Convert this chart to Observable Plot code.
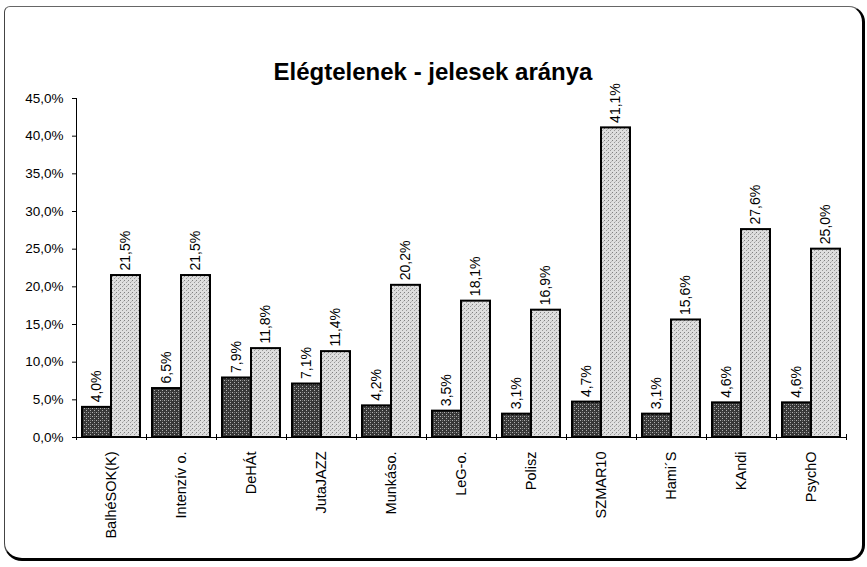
<!DOCTYPE html>
<html>
<head>
<meta charset="utf-8">
<script src="https://cdn.jsdelivr.net/npm/d3@7"></script>
<script src="https://cdn.jsdelivr.net/npm/@observablehq/plot@0.6"></script>
<style>
  html, body { margin: 0; padding: 0; background: #fff; }
  body { width: 867px; height: 567px; position: relative; overflow: hidden; font-family: "Liberation Sans", Arial, sans-serif; }
  #frame {
    position: absolute; left: 4px; top: 6px; width: 861px; height: 555px; box-sizing: border-box;
    border-top: 1px solid #666; border-left: 1px solid #444;
    border-right: 3px solid #000; border-bottom: 3px solid #000;
    border-radius: 6px 16px 16px 18px;
  }
  #title {
    position: absolute; left: 0; top: 58px; width: 866px; text-align: center;
    font: bold 24px "Liberation Sans", Arial, sans-serif; color: #000; line-height: 28px;
  }
  #chart { position: absolute; left: 0; top: 92px; }
</style>
</head>
<body>
<div id="frame"></div>
<div id="title">Elégtelenek - jelesek aránya</div>
<div id="chart"></div>
<script>
const categories = ["BalhéSOK(K)", "Intenzív o.", "DeHÁt", "JutaJAZZ", "Munkáso.", "LeG-o.", "Polisz", "SZMAR10", "Hami´S", "KAndi", "PsychO"];
const elegtelen = [4.0, 6.5, 7.9, 7.1, 4.2, 3.5, 3.1, 4.7, 3.1, 4.6, 4.6];
const jeles = [21.5, 21.5, 11.8, 11.4, 20.2, 18.1, 16.9, 41.1, 15.6, 27.6, 25.0];
const yTicks = [0, 5, 10, 15, 20, 25, 30, 35, 40, 45];

const fmt = d => d.toFixed(1).replace(".", ",") + "%";

const rowsE = categories.map((c, i) => ({cat: c, value: elegtelen[i]}));
const rowsJ = categories.map((c, i) => ({cat: c, value: jeles[i]}));

const W = 867, H = 475, ML = 76, MR = 21, MT = 6, MB = 130;
const step = (W - ML - MR) / categories.length;

const chart = Plot.plot({
  width: W, height: H,
  marginLeft: ML, marginRight: MR, marginTop: MT, marginBottom: MB,
  style: {background: "transparent", overflow: "visible", fontFamily: "'Liberation Sans', Arial, sans-serif", fontSize: "13px", color: "#000"},
  x: {type: "band", domain: categories, padding: 0, label: null},
  y: {domain: [0, 45], label: null},
  marks: [
    Plot.barY(rowsE, {x: "cat", y: "value", fill: "url(#pDark)", stroke: "#000", strokeWidth: 2, insetLeft: 6, insetRight: step - 35}),
    Plot.barY(rowsJ, {x: "cat", y: "value", fill: "url(#pLight)", stroke: "#000", strokeWidth: 2, insetLeft: 35, insetRight: 6}),
    Plot.text(rowsE, {x: "cat", y: "value", text: d => fmt(d.value), rotate: -90, textAnchor: "start", dx: 20.5 - step / 2, dy: -5, fontSize: 14, fill: "#000"}),
    Plot.text(rowsJ, {x: "cat", y: "value", text: d => fmt(d.value), rotate: -90, textAnchor: "start", dx: 49.5 - step / 2, dy: -5, fontSize: 14, fill: "#000"}),
    Plot.ruleY([0], {stroke: "#000", strokeWidth: 1}),
    Plot.ruleX([categories[0]], {dx: -step / 2, stroke: "#000", strokeWidth: 1}),
    Plot.axisY({ticks: yTicks, tickFormat: fmt, tickSize: 4, tickPadding: 9, fontSize: 13.5}),
    Plot.axisX({tickSize: 0, tickPadding: 14, tickRotate: -90, fontSize: 14.5}),
    Plot.axisX(categories, {tickSize: 6, tickFormat: () => "", dx: -step / 2, dy: -3}),
    Plot.axisX([categories[categories.length - 1]], {tickSize: 6, tickFormat: () => "", dx: step / 2, dy: -3})
  ]
});

const svg = chart.tagName.toLowerCase() === "svg" ? chart : chart.querySelector("svg");
const ns = "http://www.w3.org/2000/svg";
const defs = document.createElementNS(ns, "defs");
defs.innerHTML = `
  <pattern id="pDark" width="4" height="4" patternUnits="userSpaceOnUse">
    <rect width="4" height="4" fill="#383838"/>
    <rect x="0" y="0" width="1" height="1" fill="#b0b0b0"/>
    <rect x="2" y="2" width="1" height="1" fill="#b0b0b0"/>
    <rect x="2" y="0" width="1" height="1" fill="#777"/>
  </pattern>
  <pattern id="pLight" width="4" height="4" patternUnits="userSpaceOnUse">
    <rect width="4" height="4" fill="#dedede"/>
    <rect x="0" y="0" width="1" height="1" fill="#808080"/>
    <rect x="2" y="2" width="1" height="1" fill="#999"/>
    <rect x="3" y="1" width="1" height="1" fill="#bbb"/>
  </pattern>`;
svg.insertBefore(defs, svg.firstChild);

document.getElementById("chart").appendChild(chart);
</script>
</body>
</html>
